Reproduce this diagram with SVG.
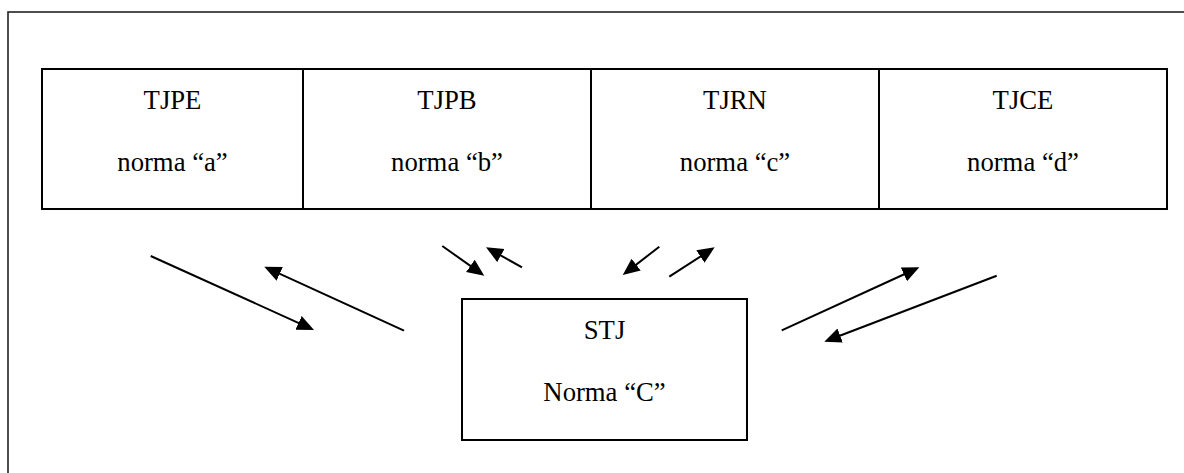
<svg xmlns="http://www.w3.org/2000/svg" width="1184" height="473" viewBox="0 0 1184 473">
  <style>
    .box { fill: #ffffff; stroke: #000000; stroke-width: 2; }
    .frame { fill: none; stroke: #222222; stroke-width: 1.6; }
    .lbl { font-family: "Liberation Serif", "Times New Roman", serif; font-size: 26.7px; fill: #000000; text-anchor: middle; }
    .conn { stroke: #000000; stroke-width: 2; fill: none; marker-end: url(#head); }
  </style>
  <defs>
    <marker id="head" markerUnits="userSpaceOnUse" markerWidth="18" markerHeight="16" refX="13" refY="7.5" orient="auto">
      <path d="M0,0 L17,7.5 L0,15 z" fill="#000000"/>
    </marker>
  </defs>

  <rect width="1184" height="473" fill="#ffffff"/>
  <!-- surrounding frame, open at the right and bottom edges -->
  <rect class="frame" x="8" y="12" width="1200" height="500"/>

  <g id="tjpe">
    <rect class="box" x="42" y="69" width="261" height="140"/>
    <text class="lbl" x="172.5" y="109">TJPE</text>
    <text class="lbl" x="172.5" y="171">norma “a”</text>
  </g>
  <g id="tjpb">
    <rect class="box" x="303" y="69" width="288" height="140"/>
    <text class="lbl" x="447" y="109">TJPB</text>
    <text class="lbl" x="447" y="171">norma “b”</text>
  </g>
  <g id="tjrn">
    <rect class="box" x="591" y="69" width="288" height="140"/>
    <text class="lbl" x="735" y="109">TJRN</text>
    <text class="lbl" x="735" y="171">norma “c”</text>
  </g>
  <g id="tjce">
    <rect class="box" x="879" y="69" width="288" height="140"/>
    <text class="lbl" x="1023" y="109">TJCE</text>
    <text class="lbl" x="1023" y="171">norma “d”</text>
  </g>
  <g id="stj">
    <rect class="box" x="462" y="299" width="285" height="141"/>
    <text class="lbl" x="604.5" y="339">STJ</text>
    <text class="lbl" x="604.5" y="401">Norma “C”</text>
  </g>

  <g id="connectors">
    <line class="conn" x1="150.7" y1="256" x2="310.4" y2="328.3"/>
    <line class="conn" x1="404" y1="330.7" x2="267.9" y2="268.4"/>
    <line class="conn" x1="442.3" y1="246" x2="481" y2="273.4"/>
    <line class="conn" x1="522" y1="267.3" x2="489.5" y2="249.2"/>
    <line class="conn" x1="659.3" y1="246.7" x2="625.9" y2="272.6"/>
    <line class="conn" x1="669.3" y1="276.7" x2="711.3" y2="249.5"/>
    <line class="conn" x1="781.7" y1="330.3" x2="915.7" y2="269"/>
    <line class="conn" x1="996.7" y1="275.7" x2="828" y2="340.2"/>
  </g>
</svg>
